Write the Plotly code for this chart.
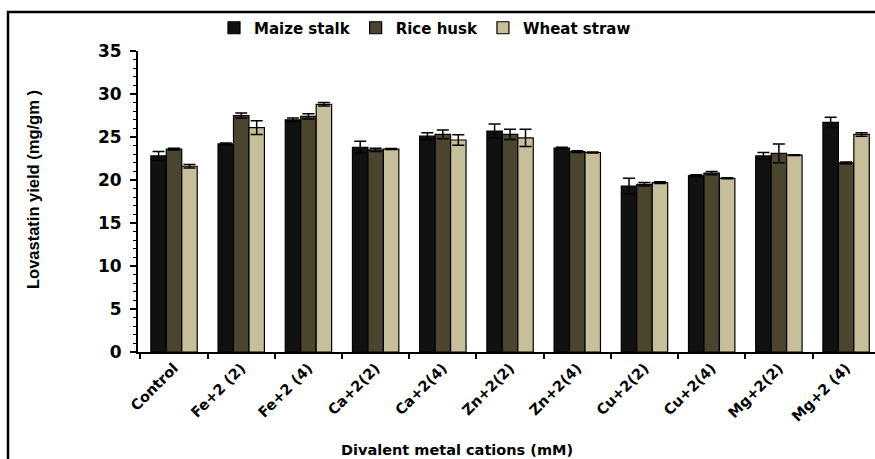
import plotly.graph_objects as go

categories = ["Control", "Fe+2 (2)", "Fe+2 (4)", "Ca+2(2)", "Ca+2(4)", "Zn+2(2)",
              "Zn+2(4)", "Cu+2(2)", "Cu+2(4)", "Mg+2(2)", "Mg+2 (4)"]
maize = [22.8, 24.2, 27.0, 23.8, 25.1, 25.7, 23.7, 19.3, 20.5, 22.8, 26.7]
maize_err = [0.5, 0.1, 0.2, 0.7, 0.4, 0.8, 0.1, 0.9, 0.1, 0.4, 0.6]
rice = [23.6, 27.5, 27.4, 23.5, 25.3, 25.3, 23.3, 19.5, 20.8, 23.1, 22.0]
rice_err = [0.1, 0.3, 0.3, 0.2, 0.5, 0.6, 0.1, 0.2, 0.2, 1.1, 0.1]
wheat = [21.6, 26.1, 28.8, 23.6, 24.65, 24.9, 23.2, 19.7, 20.2, 22.9, 25.3]
wheat_err = [0.2, 0.8, 0.2, 0.05, 0.6, 1.0, 0.05, 0.1, 0.05, 0.05, 0.2]

x_title = "Divalent metal cations (mM)"
y_title = "Lovastatin yield (mg/gm )"

series = [
    ("Maize stalk", maize, maize_err, "#111111"),
    ("Rice husk", rice, rice_err, "#4a452e"),
    ("Wheat straw", wheat, wheat_err, "#c7be9a"),
]

fig = go.Figure()
for name, vals, errs, col in series:
    fig.add_trace(go.Bar(
        name=name, x=categories, y=vals,
        marker=dict(color=col, line=dict(color="#000000", width=1.2)),
        error_y=dict(type="data", array=errs, visible=True, color="#000000",
                     thickness=1.5, width=6),
    ))

wide = "DejaVu Sans, Verdana, sans-serif"
arial = "Liberation Sans, Arial, sans-serif"

L, T, PW, PH = 138, 51, 737, 301

fig.update_layout(
    width=875, height=459,
    barmode="group", bargap=0.31, bargroupgap=0.0,
    plot_bgcolor="white", paper_bgcolor="white",
    margin=dict(l=L, r=0, t=T, b=459 - T - PH),
    font=dict(family=wide, color="#000000"),
    showlegend=True,
    legend=dict(orientation="h", x=(214 - L) / PW, xanchor="left",
                y=1 + (T - 28) / PH, yanchor="middle",
                font=dict(size=15, family=wide, weight="bold"),
                bgcolor="rgba(0,0,0,0)", traceorder="normal"),
    xaxis=dict(
        type="category",
        range=[-0.536, 10.43],
        showline=True, linecolor="#000000", linewidth=2,
        ticks="outside", tickson="boundaries", ticklen=5, tickwidth=1.5, tickcolor="#000000",
        tickangle=-45,
        tickfont=dict(size=14.5, family=wide, weight="bold"),
        showgrid=False, zeroline=False,
    ),
    yaxis=dict(
        range=[0, 35], dtick=5,
        showline=True, linecolor="#000000", linewidth=2,
        ticks="outside", ticklen=6, tickwidth=1.5, tickcolor="#000000",
        minor=dict(dtick=1, ticks="outside", ticklen=3, tickcolor="#000000", tickwidth=1),
        tickfont=dict(size=17, family=wide, weight="bold"),
        ticklabelstandoff=5,
        showgrid=False, zeroline=False,
    ),
    annotations=[
        dict(text=x_title, xref="paper", yref="paper",
             x=(457 - L) / PW, y=-(450 - T - PH) / PH, xanchor="center", yanchor="middle",
             showarrow=False, font=dict(size=14.5, family=wide, weight="bold")),
        dict(text=y_title, xref="paper", yref="paper", textangle=-90,
             x=(33 - L) / PW, y=(T + PH - 190) / PH, xanchor="center", yanchor="middle",
             showarrow=False, font=dict(size=16.5, family=arial, weight="bold")),
    ],
    shapes=[
        dict(type="rect", xref="paper", yref="paper",
             x0=(8 - L) / PW, x1=1.3, y0=-0.6, y1=1 + (T - 12) / PH,
             line=dict(color="#000000", width=2.5), fillcolor="rgba(0,0,0,0)", layer="below"),
    ],
)

fig.write_html("out.html", config={"displayModeBar": False},
               post_script="document.body.style.margin='0';document.body.style.overflow='hidden';")
